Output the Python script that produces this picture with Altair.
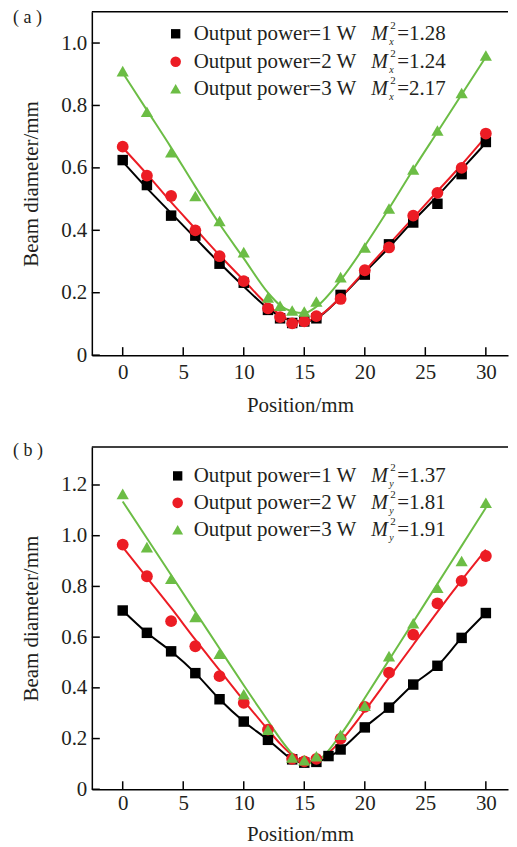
import altair as alt
import pandas as pd

# ---------------- data ----------------
positions = [0, 2, 4, 6, 8, 10, 12, 13, 14, 15, 16, 18, 20, 22, 24, 26, 28, 30]
series = ["Output power=1 W", "Output power=2 W", "Output power=3 W"]

# panel (a) measured points
a_p1 = [0.625, 0.545, 0.447, 0.383, 0.293, 0.232, 0.145, 0.118, 0.103, 0.108, 0.118, 0.193, 0.258, 0.355, 0.425, 0.485, 0.580, 0.683]
a_p2 = [0.668, 0.575, 0.510, 0.400, 0.317, 0.237, 0.150, 0.122, 0.102, 0.108, 0.125, 0.180, 0.272, 0.345, 0.447, 0.520, 0.600, 0.710]
a_p3 = [0.910, 0.780, 0.650, 0.510, 0.430, 0.330, 0.185, 0.158, 0.143, 0.140, 0.172, 0.250, 0.345, 0.470, 0.595, 0.720, 0.840, 0.960]
# panel (a) fitted curves
a_f1 = [0.620, 0.535, 0.455, 0.375, 0.295, 0.220, 0.150, 0.125, 0.110, 0.108, 0.118, 0.185, 0.265, 0.345, 0.430, 0.510, 0.595, 0.680]
a_f2 = [0.665, 0.580, 0.490, 0.405, 0.320, 0.240, 0.160, 0.130, 0.110, 0.108, 0.120, 0.185, 0.270, 0.355, 0.440, 0.525, 0.610, 0.700]
a_f3 = [0.905, 0.785, 0.665, 0.540, 0.420, 0.310, 0.200, 0.160, 0.140, 0.135, 0.155, 0.240, 0.350, 0.470, 0.595, 0.715, 0.835, 0.955]
a_m2 = ["1.28", "1.24", "2.17"]

positions_b = [0, 2, 4, 6, 8, 10, 12, 14, 15, 16, 17, 18, 20, 22, 24, 26, 28, 30]
b_p1 = [0.705, 0.617, 0.544, 0.458, 0.355, 0.267, 0.195, 0.118, 0.105, 0.108, 0.131, 0.157, 0.244, 0.322, 0.413, 0.487, 0.597, 0.695]
positions_b2 = [0, 2, 4, 6, 8, 10, 12, 14, 15, 16, 18, 20, 22, 24, 26, 28, 30]
b_p2 = [0.965, 0.840, 0.663, 0.564, 0.446, 0.341, 0.235, 0.120, 0.110, 0.120, 0.200, 0.325, 0.460, 0.610, 0.733, 0.822, 0.920]
b_p3 = [1.165, 0.955, 0.830, 0.680, 0.535, 0.375, 0.235, 0.125, 0.115, 0.130, 0.215, 0.330, 0.525, 0.655, 0.795, 0.900, 1.130]
fit_pos_b = [0, 2, 4, 6, 8, 10, 12, 13, 14, 15, 16, 18, 20, 22, 24, 26, 28, 30]
b_f1 = [0.705, 0.617, 0.544, 0.458, 0.355, 0.267, 0.195, 0.155, 0.118, 0.105, 0.108, 0.157, 0.244, 0.322, 0.413, 0.487, 0.597, 0.695]
b_f2 = [0.955, 0.835, 0.715, 0.590, 0.470, 0.350, 0.235, 0.180, 0.135, 0.110, 0.115, 0.190, 0.310, 0.440, 0.570, 0.700, 0.825, 0.945]
b_f3 = [1.135, 0.990, 0.845, 0.700, 0.555, 0.410, 0.270, 0.200, 0.140, 0.100, 0.110, 0.215, 0.360, 0.510, 0.660, 0.810, 0.960, 1.110]
b_m2 = ["1.37", "1.81", "1.91"]

x_ticks = [0, 5, 10, 15, 20, 25, 30]
a_y_ticks = [0, 0.2, 0.4, 0.6, 0.8, 1.0]
b_y_ticks = [0, 0.2, 0.4, 0.6, 0.8, 1.0, 1.2]

colors = ["#000000", "#ec1c24", "#6cbd45"]
shapes = ["square", "circle", "triangle-up"]
sizes = [110, 140, 150]

FONT = "Liberation Serif"
FS = 21
W = 417
X_MIN, X_MAX = -2.55, 31.83


def make_panel(tag, pts, fits, m2, sub, y_max, y_ticks, H, legend_rows, lab_pad, tit_pad):
    pts_df = pd.DataFrame(
        [{"x": x, "y": y, "s": s} for s, (xs, ys) in zip(series, pts) for x, y in zip(xs, ys)]
    )
    fit_df = pd.DataFrame(
        [{"x": x, "y": y, "s": s} for s, (xs, ys) in zip(series, fits) for x, y in zip(xs, ys)]
    )
    xs = alt.Scale(domain=[X_MIN, X_MAX], nice=False, zero=False)
    ys = alt.Scale(domain=[0, y_max], nice=False)
    xenc = alt.X("x:Q", scale=xs, axis=alt.Axis(values=x_ticks, title="Position/mm", ticks=False,
                                                  labelPadding=lab_pad, titlePadding=tit_pad, grid=False))
    yenc = alt.Y("y:Q", scale=ys, axis=alt.Axis(values=y_ticks, title="Beam diameter/mm", ticks=False,
                                                  labelPadding=5, titlePadding=19, grid=False,
                                                  labelExpr="datum.value == 0 ? '0' : format(datum.value, '.1f')"))
    cscale = alt.Scale(domain=series, range=colors)

    lines = alt.Chart(fit_df).mark_line(strokeWidth=2, interpolate="monotone").encode(
        x=xenc, y=yenc, color=alt.Color("s:N", scale=cscale, legend=None), detail="s:N"
    )
    layers = [lines]
    for i, s in enumerate(series):
        sub_df = pts_df[pts_df["s"] == s]
        layers.append(
            alt.Chart(sub_df).mark_point(shape=shapes[i], filled=True, opacity=1, size=sizes[i],
                                         color=colors[i]).encode(x="x:Q", y="y:Q")
        )
    # inward ticks
    xt = pd.DataFrame({"x": x_ticks})
    layers.append(alt.Chart(xt).mark_rule(color="black", strokeWidth=1.5).encode(
        x="x:Q", y=alt.value(H), y2=alt.value(H - 8)))
    yt = pd.DataFrame({"y": y_ticks})
    layers.append(alt.Chart(yt).mark_rule(color="black", strokeWidth=1.5).encode(
        y="y:Q", x=alt.value(0), x2=alt.value(8)))
    # top frame line
    layers.append(alt.Chart(pd.DataFrame({"k": [0]})).mark_rule(color="black", strokeWidth=1.5).encode(
        x=alt.value(0), x2=alt.value(W), y=alt.value(0)))

    def txt(t, x, y, size=FS, style="normal", align="left", baseline="middle"):
        return alt.Chart(pd.DataFrame({"t": [t]})).mark_text(
            font=FONT, fontSize=size, fontStyle=style, align=align, baseline=baseline, color="#231f20"
        ).encode(text="t:N", x=alt.value(x), y=alt.value(y))

    # panel tag
    layers.append(txt(tag, -79, legend_rows[3], size=18))
    # legend
    for i, s in enumerate(series):
        ry = legend_rows[i]
        layers.append(
            alt.Chart(pd.DataFrame({"t": [s]})).mark_point(shape=shapes[i], filled=True, opacity=1,
                                                           size=sizes[i] * 0.8, color=colors[i]).encode(
                x=alt.value(legend_rows[4]), y=alt.value(ry))
        )
        layers.append(txt(s, 102, ry))
        layers.append(txt("M", 280, ry, size=20, style="italic"))
        layers.append(txt("2", 299, ry - 8, size=11))
        layers.append(txt(sub, 298, ry + 8, size=10, style="italic"))
        layers.append(txt("=" + m2[i], 306, ry))

    return alt.layer(*layers).properties(width=W, height=H)


pa = make_panel("( a )",
                [(positions, a_p1), (positions, a_p2), (positions, a_p3)],
                [(positions, a_f1), (positions, a_f2), (positions, a_f3)],
                a_m2, "x", 1.1, a_y_ticks, 344, [22, 50, 77, 6, 84], 6, 12)
pb = make_panel("( b )",
                [(positions_b, b_p1), (positions_b2, b_p2), (positions_b2, b_p3)],
                [(fit_pos_b, b_f1), (fit_pos_b, b_f2), (fit_pos_b, b_f3)],
                b_m2, "y", 1.35, b_y_ticks, 343, [29, 56, 83, 4, 86], 3, 10)

chart = alt.vconcat(pa, pb, spacing=27).properties(
    padding={"left": 5, "top": 0, "right": 0, "bottom": 0}
).configure_view(stroke=None).configure_axis(
    domainColor="black", domainWidth=1.5, labelFont=FONT, labelFontSize=FS, labelColor="#231f20",
    titleFont=FONT, titleFontSize=FS, titleFontWeight="normal", titleColor="#231f20"
)

chart.save("out.html", embed_options={"renderer": "svg", "actions": False})
